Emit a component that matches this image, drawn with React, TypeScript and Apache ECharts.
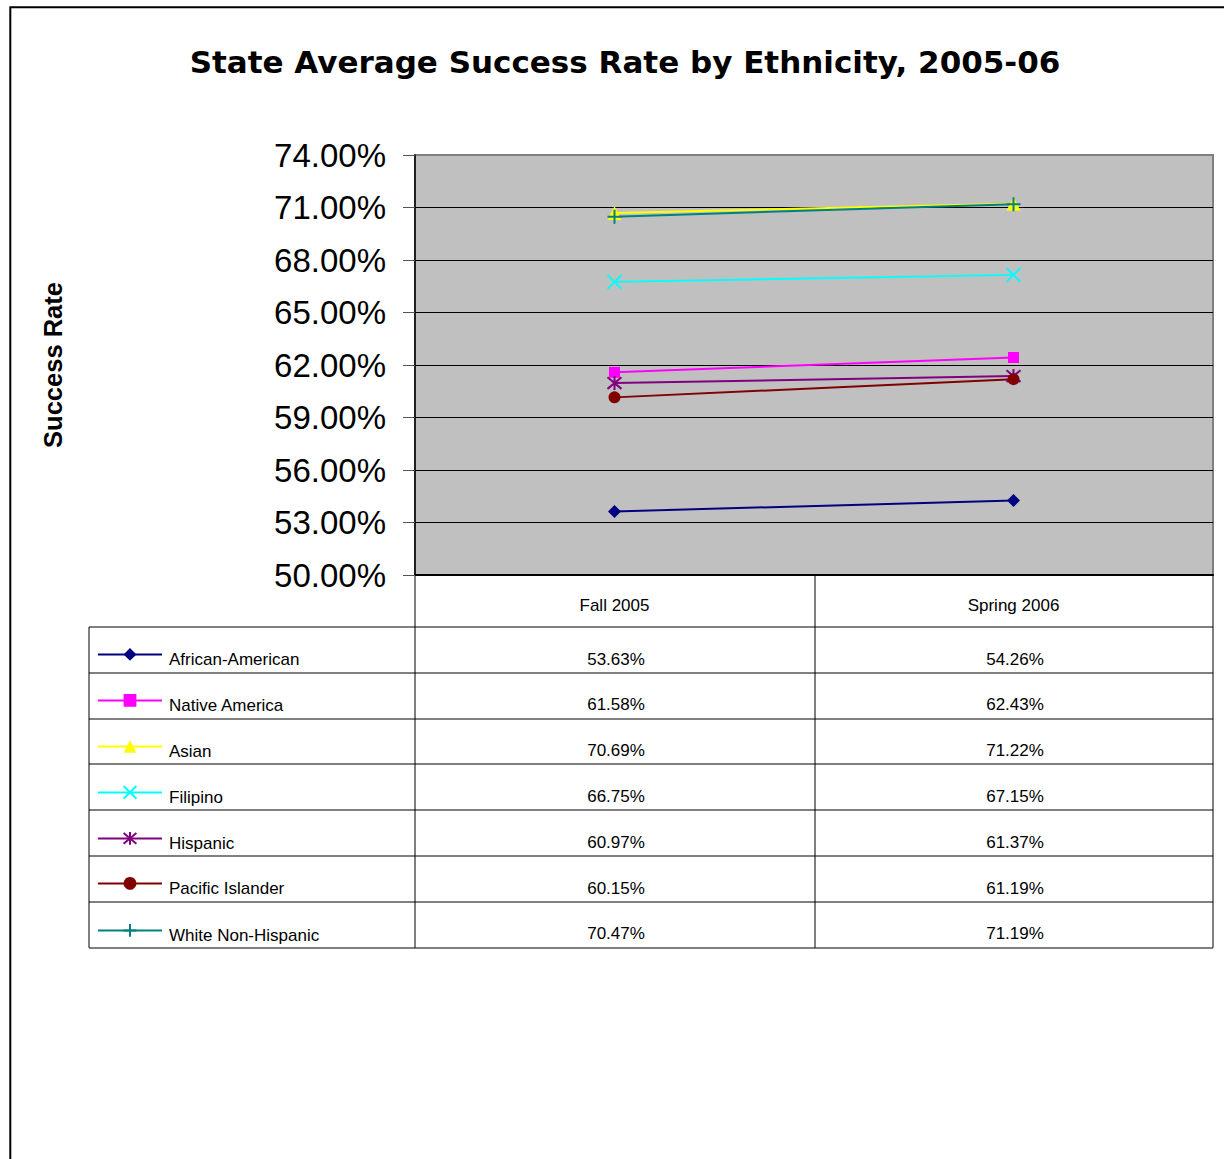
import React, { useEffect, useRef } from "react";
import * as echarts from "echarts";

const categories = ["Fall 2005", "Spring 2006"];
const seriesNames = [
  "African-American",
  "Native America",
  "Asian",
  "Filipino",
  "Hispanic",
  "Pacific Islander",
  "White Non-Hispanic",
];
const africanAmerican = [53.63, 54.26];
const nativeAmerica = [61.58, 62.43];
const asian = [70.69, 71.22];
const filipino = [66.75, 67.15];
const hispanic = [60.97, 61.37];
const pacificIslander = [60.15, 61.19];
const whiteNonHispanic = [70.47, 71.19];
const seriesValues = [
  africanAmerican,
  nativeAmerica,
  asian,
  filipino,
  hispanic,
  pacificIslander,
  whiteNonHispanic,
];
const seriesColors = ["#000080", "#FF00FF", "#FFFF00", "#00FFFF", "#800080", "#800000", "#008080"];
const X_PATH = "path://M0,0L10,10M10,0L0,10";
const STAR_PATH = "path://M0,0L10,10M10,0L0,10M5,-1L5,11";
const PLUS_PATH = "path://M5,0L5,10M0,5L10,5";
const seriesSymbols = ["diamond", "rect", "triangle", X_PATH, STAR_PATH, "circle", PLUS_PATH];
const symbolSizes = [13, 11, 14, 14, 14, 12, 14];
const stroked = [false, false, false, true, true, false, true];

const yMin = 50;
const yMax = 74;
const yInterval = 3;

const FONT = "'Liberation Sans', Arial, sans-serif";

export default function App() {
  const ref = useRef<HTMLDivElement>(null);
  useEffect(() => {
    if (!ref.current) return;
    const chart = echarts.init(ref.current, undefined, { renderer: "svg" });

    const gridLeft = 415;
    const gridRight = 1213;
    const gridTop = 155;
    const gridBottom = 575;
    const colX = [gridLeft, 815, gridRight];
    const tableLeft = 89;
    const headerBottom = 627;
    const rowH = 45.83;
    const tableBottom = headerBottom + rowH * seriesNames.length;

    const graphics: any[] = [];
    graphics.push({
      type: "rect",
      silent: true,
      shape: { x: 10.3, y: 7.3, width: 1400, height: 1400 },
      style: { fill: "none", stroke: "#000", lineWidth: 2 },
      z: 100,
    });
    colX.forEach((x) => {
      graphics.push({
        type: "line",
        silent: true,
        shape: { x1: x, y1: gridBottom, x2: x, y2: tableBottom },
        style: { stroke: "#000", lineWidth: 1 },
      });
    });
    graphics.push({
      type: "line",
      silent: true,
      shape: { x1: tableLeft, y1: headerBottom, x2: tableLeft, y2: tableBottom },
      style: { stroke: "#000", lineWidth: 1 },
    });
    for (let i = 0; i <= seriesNames.length; i++) {
      const y = Math.round(headerBottom + rowH * i);
      graphics.push({
        type: "line",
        silent: true,
        shape: { x1: tableLeft, y1: y, x2: gridRight, y2: y },
        style: { stroke: "#000", lineWidth: 1 },
      });
    }
    seriesValues.forEach((vals, i) => {
      vals.forEach((v, j) => {
        graphics.push({
          type: "text",
          silent: true,
          x: (colX[j] + colX[j + 1]) / 2 + 1,
          y: headerBottom + rowH * i + 32,
          style: {
            text: v.toFixed(2) + "%",
            font: `17px ${FONT}`,
            fill: "#000",
            align: "center",
            verticalAlign: "middle",
          },
        });
      });
    });

    const splitColors = [];
    const nTicks = Math.round((yMax - yMin) / yInterval) + 1;
    for (let i = 0; i < nTicks; i++) splitColors.push(i === nTicks - 1 ? "#808080" : "#000");

    const legends = seriesNames.map((name, i) => ({
      left: 97,
      top: Math.round(headerBottom + rowH * i + 21),
      padding: 0,
      orient: "vertical",
      itemWidth: 64,
      itemHeight: 16,
      selectedMode: false,
      data: [name],
      formatter: "{a|{name}}",
      textStyle: {
        color: "#000",
        fontFamily: FONT,
        fontSize: 17,
        rich: {
          a: { fontSize: 17, color: "#000", fontFamily: FONT, padding: [10, 0, 0, 2] },
        },
      },
    }));

    chart.setOption({
      animation: false,
      backgroundColor: "#fff",
      textStyle: { fontFamily: FONT },
      title: {
        text: "State Average Success Rate by Ethnicity, 2005-06",
        left: 620,
        textAlign: "center",
        top: 41,
        textStyle: {
          fontSize: 31,
          fontWeight: "bold",
          color: "#000",
          fontFamily: "'DejaVu Sans', sans-serif",
        },
      },
      grid: {
        left: gridLeft,
        top: gridTop,
        width: gridRight - gridLeft,
        height: gridBottom - gridTop,
        show: true,
        backgroundColor: "#C0C0C0",
        borderColor: "#808080",
        borderWidth: 2,
      },
      legend: legends,
      xAxis: {
        type: "category",
        data: categories,
        boundaryGap: true,
        axisLine: { show: true, lineStyle: { color: "#000", width: 2 } },
        axisTick: { show: false },
        axisLabel: { fontSize: 17, color: "#000", margin: 22, fontFamily: FONT },
        splitLine: { show: false },
      },
      yAxis: {
        type: "value",
        min: yMin,
        max: yMax,
        interval: yInterval,
        name: "Success Rate",
        nameLocation: "middle",
        nameRotate: 90,
        nameGap: 349,
        nameTextStyle: { fontSize: 25.5, fontWeight: "bold", color: "#000", fontFamily: FONT },
        axisLine: { show: true, lineStyle: { color: "#000", width: 1.5 } },
        axisTick: { show: true, length: 12, lineStyle: { color: "#555", width: 1 } },
        axisLabel: {
          fontSize: 33,
          color: "#000",
          margin: 29,
          fontFamily: FONT,
          formatter: (v: number) => v.toFixed(2) + "%",
        },
        splitLine: { show: true, lineStyle: { color: splitColors, width: 1.2 } },
      },
      series: seriesNames.map((name, i) => ({
        name,
        type: "line",
        data: seriesValues[i],
        symbol: seriesSymbols[i],
        symbolSize: symbolSizes[i],
        lineStyle: { color: seriesColors[i], width: 2 },
        itemStyle: {
          color: seriesColors[i],
          borderColor: seriesColors[i],
          borderWidth: stroked[i] ? 2 : 0,
        },
        emphasis: { disabled: true },
      })),
      graphic: graphics,
    });
    return () => chart.dispose();
  }, []);
  return (
    <div
      ref={ref}
      style={{ position: "absolute", left: 0, top: 0, width: 1224, height: 1159 }}
    />
  );
}
